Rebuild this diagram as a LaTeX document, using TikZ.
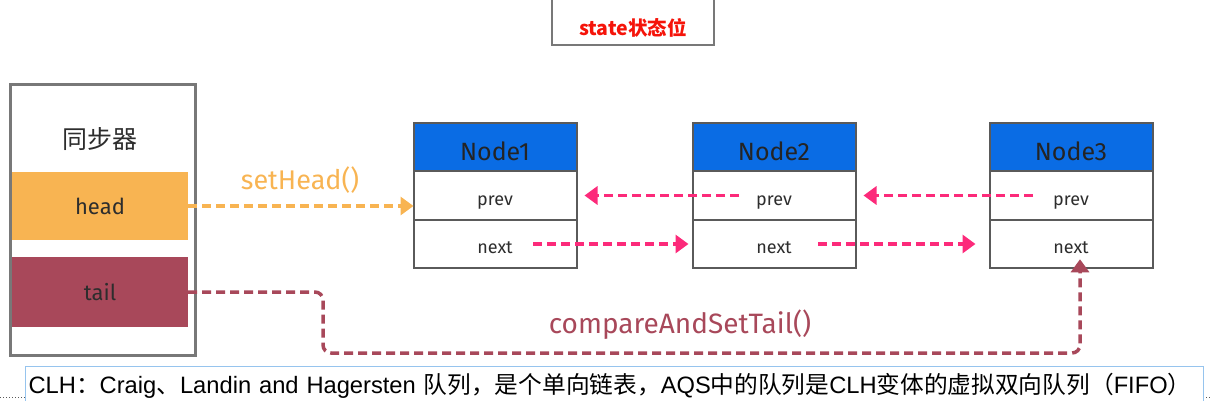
\documentclass[tikz,border=0pt]{standalone}
\usepackage{fontspec}
\setmainfont{Fira Sans}
\newfontfamily\cjk{Noto Sans CJK SC}
\newfontfamily\capfont{Liberation Sans}
\newcommand{\zh}[1]{{\cjk #1}}
\usetikzlibrary{arrows.meta,positioning}

\definecolor{nodeblue}{RGB}{10,108,228}
\definecolor{linkpink}{RGB}{252,42,122}
\definecolor{headorange}{RGB}{248,180,82}
\definecolor{tailred}{RGB}{168,72,90}
\definecolor{boxgray}{RGB}{90,90,90}
\definecolor{syncgray}{RGB}{120,120,120}
\definecolor{capblue}{RGB}{150,196,238}
\definecolor{statered}{RGB}{245,20,10}
\definecolor{inkgray}{RGB}{45,45,45}

\begin{document}
\begin{tikzpicture}[x=1pt,y=-1pt,
    box/.style={draw=boxgray, line width=2pt, fill=white, minimum width=163pt, minimum height=48.5pt,
        inner sep=0pt, outer sep=0pt, text=inkgray, text height=21pt, text depth=2pt,
        font=\fontsize{18}{18}\selectfont},
    hdr/.style={box, fill=nodeblue, text=inkgray!80!black, text height=29pt, text depth=2pt,
        font=\fontsize{25}{25}\selectfont},
    field/.style={minimum width=176pt, inner sep=0pt, text=inkgray, font=\fontsize{22}{22}\selectfont},
    link/.style={draw=linkpink, line width=3.5pt, dash pattern=on 9pt off 5pt, -{Triangle[width=18pt,length=13pt]}},
    headlink/.style={link, draw=headorange},
    taillink/.style={link, draw=tailred, rounded corners=8pt}
]
    \useasboundingbox (0,0) rectangle (1210,401);

    % State box (top)
    \node[draw=syncgray, line width=2.5pt, minimum width=162pt, minimum height=52pt, inner sep=0pt,
        text height=38pt, text depth=4pt, text=statered, font=\cjk\bfseries\fontsize{19.5}{19.5}\selectfont]
        (state) at (633,19) {state状态位};

    % Synchronizer
    \node[draw=syncgray, line width=3pt, minimum width=185pt, minimum height=270pt] (sync) at (103,220) {};
    \node[font=\cjk\fontsize{25}{25}\selectfont, text=inkgray] (synctitle) at (100,139) {同步器};
    \node[field, fill=headorange, minimum height=68pt] (head) at (100,206) {head};
    \node[field, fill=tailred, minimum height=70pt] (tail) at (100,292) {tail};

    % Queue nodes
    \foreach \i/\x in {1/495,2/774,3/1071} {
        \node[hdr] (node\i) at (\x,147) {Node\i};
        \node[box, below=0pt of node\i] (prev\i) {prev};
        \node[box, below=0pt of prev\i] (next\i) {next};
    }

    % setHead()
    \draw[headlink] (head.east) -- (head.east -| prev1.west);
    \node[text=headorange, font=\fontsize{27}{27}\selectfont] (sethead) at (300,180) {setHead()};

    % prev / next links
    \draw[link] ([xshift=-35pt]prev2.center) -- ([xshift=8pt]prev1.east);
    \draw[link] ([xshift=-38pt]prev3.center) -- ([xshift=8pt]prev2.east);
    \draw[link] ([xshift=38pt]next1.center) -- ([xshift=-4pt]next2.west);
    \draw[link] ([xshift=44pt]next2.center) -- ([xshift=-14pt]next3.west);

    % compareAndSetTail()
    \coordinate (tailbend) at (323,353);
    \draw[taillink] (tail.east) -| (tailbend) -| ([xshift=9pt,yshift=9pt]next3.south);
    \node[text=tailred, font=\fontsize{28}{28}\selectfont] (casTail) at (680,325) {compareAndSetTail()};

    % Caption
    \draw[dotted, line width=1pt, boxgray] (0,397) -- (1210,397);
    \node[draw=capblue, line width=1.2pt, fill=white, anchor=north west, minimum height=38pt,
        text width=1172pt, inner xsep=3pt, align=left, font=\capfont\fontsize{23.7}{23.7}\selectfont]
        (caption) at (25,366)
        {CLH\zh{：}Craig\zh{、}Landin and Hagersten \zh{队列，是个单向链表，}AQS\zh{中的队列是}CLH\zh{变体的虚拟双向队列（}FIFO\zh{）}};
\end{tikzpicture}
\end{document}
